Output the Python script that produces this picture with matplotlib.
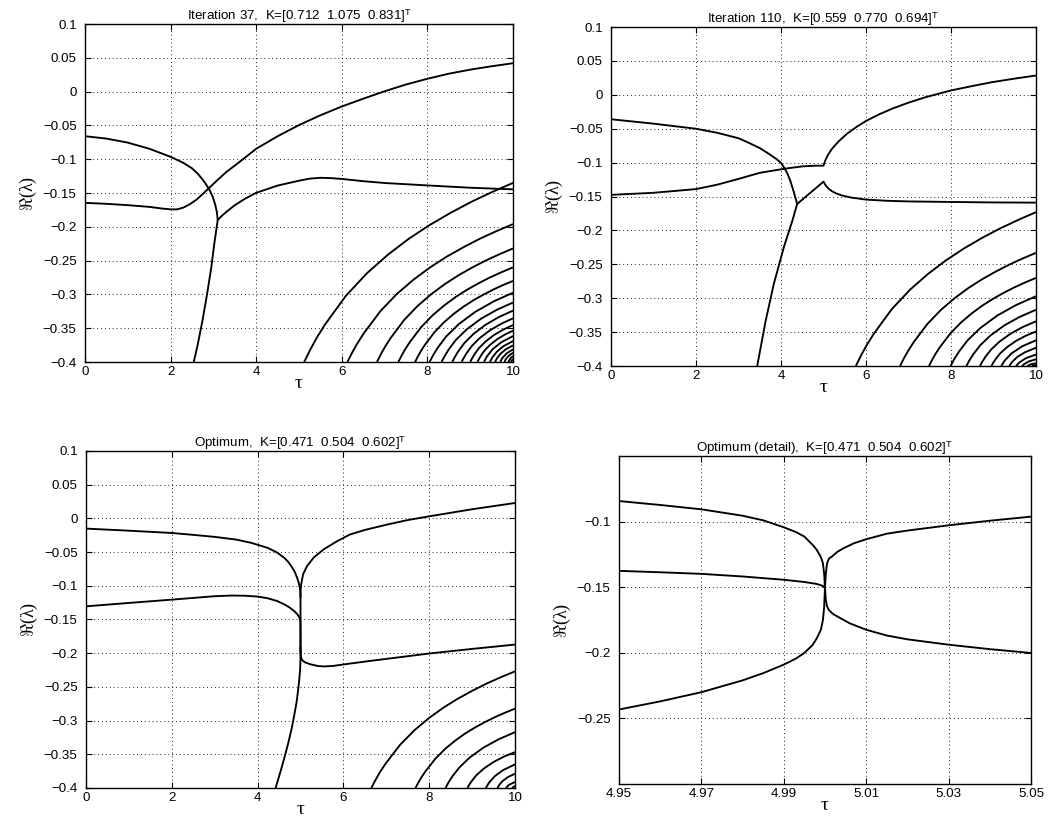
import matplotlib
matplotlib.use("Agg")
import matplotlib.pyplot as plt
from matplotlib.ticker import FuncFormatter

plt.rcParams["font.family"] = ["Liberation Sans", "DejaVu Sans"]
plt.rcParams["mathtext.fontset"] = "custom"
plt.rcParams["mathtext.rm"] = "Liberation Serif"
plt.rcParams["mathtext.it"] = "Liberation Serif:italic"
plt.rcParams["mathtext.bf"] = "Liberation Serif:bold"
plt.rcParams["mathtext.sf"] = "Liberation Sans"

# ---------------------------------------------------------------- axes ticks
tau_ticks = [0, 2, 4, 6, 8, 10]
re_ticks = [-0.4, -0.35, -0.3, -0.25, -0.2, -0.15, -0.1, -0.05, 0, 0.05, 0.1]
detail_tau_ticks = [4.95, 4.97, 4.99, 5.01, 5.03, 5.05]
detail_re_ticks = [-0.25, -0.2, -0.15, -0.1]

titles = [
    r"Iteration 37,  K=[0.712  1.075  0.831]$^{\mathsf{T}}$",
    r"Iteration 110,  K=[0.559  0.770  0.694]$^{\mathsf{T}}$",
    r"Optimum,  K=[0.471  0.504  0.602]$^{\mathsf{T}}$",
    r"Optimum (detail),  K=[0.471  0.504  0.602]$^{\mathsf{T}}$",
]

# ------------------------------------------------- iteration 37: root branches
it37_tau_a = [0, 0.5, 1.0, 1.5, 2.0, 2.3, 2.5, 2.65, 2.8, 2.9, 2.98, 3.04, 3.08, 3.1]
it37_re_a = [-0.066, -0.0695, -0.0755, -0.0845, -0.0965, -0.1055, -0.1135, -0.1225,
             -0.1345, -0.1445, -0.155, -0.167, -0.178, -0.19]
it37_tau_d = [3.1, 3.02, 2.95, 2.85, 2.74, 2.63, 2.54]
it37_re_d = [-0.19, -0.225, -0.26, -0.30, -0.34, -0.375, -0.4]
it37_tau_b = [0, 0.5, 1, 1.5, 1.8, 2.0, 2.15, 2.3, 2.45, 2.6, 2.75, 2.9, 3.1, 3.3, 3.6,
              4, 4.5, 5, 5.5, 6, 6.5, 7, 7.5, 8, 8.5, 9, 9.5, 10]
it37_re_b = [-0.1646, -0.166, -0.168, -0.1705, -0.173, -0.1742, -0.1742, -0.1715,
             -0.1665, -0.16, -0.1515, -0.1425, -0.1305, -0.119, -0.1045, -0.0845,
             -0.066, -0.0495, -0.035, -0.022, -0.0105, 0.0005, 0.0105, 0.019, 0.0265,
             0.0325, 0.0375, 0.042]
it37_tau_c = [3.1, 3.2, 3.3, 3.5, 3.75, 4, 4.5, 5, 5.25, 5.5, 5.75, 6, 6.5, 7, 8, 9, 10]
it37_re_c = [-0.19, -0.1835, -0.178, -0.168, -0.158, -0.1497, -0.139, -0.1318, -0.1287,
             -0.1275, -0.128, -0.1292, -0.1325, -0.1352, -0.1388, -0.1422, -0.1446]
it37_fan_tau = [
    [5.12, 5.266, 5.413, 5.608, 6.096, 6.584, 7.072, 7.56, 8.048, 8.536, 9.024, 9.512, 10],
    [6.13, 6.246, 6.362, 6.517, 6.904, 7.291, 7.678, 8.065, 8.452, 8.839, 9.226, 9.613, 10],
    [6.82, 6.915, 7.011, 7.138, 7.456, 7.774, 8.092, 8.41, 8.728, 9.046, 9.364, 9.682, 10],
    [7.32, 7.40, 7.481, 7.588, 7.856, 8.124, 8.392, 8.66, 8.928, 9.196, 9.464, 9.732, 10],
    [7.71, 7.779, 7.847, 7.939, 8.168, 8.397, 8.626, 8.855, 9.084, 9.313, 9.542, 9.771, 10],
    [8.05, 8.128, 8.245, 8.44, 8.733, 9.123, 9.552, 10],
    [8.33, 8.397, 8.497, 8.664, 8.915, 9.249, 9.616, 10],
    [8.58, 8.637, 8.722, 8.864, 9.077, 9.361, 9.673, 10],
    [8.8, 8.848, 8.92, 9.04, 9.22, 9.46, 9.724, 10],
    [9.0, 9.04, 9.1, 9.2, 9.35, 9.55, 9.77, 10],
    [9.17, 9.203, 9.253, 9.336, 9.461, 9.627, 9.809, 10],
    [9.32, 9.388, 9.524, 9.728, 10],
    [9.46, 9.514, 9.622, 9.784, 10],
    [9.58, 9.622, 9.706, 9.832, 10],
    [9.70, 9.745, 9.85, 10],
    [9.8, 9.83, 9.9, 10],
    [9.89, 9.95, 10],
    [9.95, 10],
]
it37_fan_re = [
    [-0.4, -0.3812, -0.3642, -0.3444, -0.302, -0.2688, -0.2415, -0.2179, -0.1975,
     -0.1795, -0.1631, -0.1485, -0.135],
    [-0.4, -0.3855, -0.3725, -0.3572, -0.3245, -0.299, -0.278, -0.2599, -0.2441,
     -0.2303, -0.2176, -0.2064, -0.196],
    [-0.4, -0.3881, -0.3773, -0.3647, -0.3378, -0.3168, -0.2995, -0.2846, -0.2716,
     -0.2602, -0.2498, -0.2406, -0.232],
    [-0.4, -0.3901, -0.3811, -0.3706, -0.3482, -0.3307, -0.3163, -0.3038, -0.293,
     -0.2835, -0.2748, -0.2671, -0.26],
    [-0.4, -0.3915, -0.3838, -0.3748, -0.3556, -0.3406, -0.3282, -0.3176, -0.3083,
     -0.3002, -0.2927, -0.2861, -0.28],
    [-0.4, -0.3905, -0.3785, -0.3621, -0.3439, -0.3256, -0.3102, -0.2975],
    [-0.4, -0.3918, -0.3815, -0.3674, -0.3519, -0.3361, -0.3229, -0.312],
    [-0.4, -0.3929, -0.384, -0.3719, -0.3584, -0.3448, -0.3334, -0.324],
    [-0.4, -0.394, -0.3864, -0.3761, -0.3647, -0.3531, -0.3434, -0.3354],
    [-0.4, -0.3949, -0.3885, -0.3798, -0.3701, -0.3603, -0.3521, -0.3453],
    [-0.4, -0.3957, -0.3903, -0.3829, -0.3747, -0.3664, -0.3594, -0.3537],
    [-0.4, -0.3919, -0.381, -0.3707, -0.3616],
    [-0.4, -0.3935, -0.3847, -0.3763, -0.369],
    [-0.4, -0.3948, -0.3878, -0.3812, -0.3754],
    [-0.4, -0.3946, -0.3872, -0.3813],
    [-0.4, -0.396, -0.3906, -0.3863],
    [-0.4, -0.3936, -0.3912],
    [-0.4, -0.3951],
]

# ------------------------------------------------ iteration 110: root branches
it110_tau_a = [0, 1, 2, 2.5, 3, 3.25, 3.5, 3.75, 3.9, 4.0, 4.08, 4.15, 4.22, 4.3, 4.38]
it110_re_a = [-0.036, -0.0425, -0.05, -0.056, -0.064, -0.071, -0.0785, -0.0885, -0.095,
              -0.1005, -0.108, -0.116, -0.127, -0.143, -0.161]
it110_tau_d = [4.38, 4.27, 4.07, 3.83, 3.64, 3.44]
it110_re_d = [-0.161, -0.185, -0.224, -0.279, -0.333, -0.4]
it110_tau_e = [4.38, 5.0, 5.05, 5.12, 5.2, 5.3, 5.45, 5.65, 6, 6.5, 7, 8, 9, 10]
it110_re_e = [-0.161, -0.128, -0.1335, -0.1385, -0.1422, -0.1455, -0.1487, -0.1515,
              -0.1545, -0.1563, -0.1572, -0.158, -0.1587, -0.159]
it110_tau_b = [0, 1, 2, 2.5, 3, 3.5, 4.08, 4.5, 4.8, 5.0, 5.04, 5.1, 5.2, 5.35, 5.55,
               5.77, 6, 6.3, 6.62, 7, 7.4, 8, 8.5, 8.95, 9.5, 10]
it110_re_b = [-0.1475, -0.1445, -0.139, -0.1325, -0.124, -0.115, -0.109, -0.1055,
              -0.1045, -0.1045, -0.097, -0.089, -0.0795, -0.069, -0.0575, -0.0475,
              -0.0385, -0.029, -0.0203, -0.0115, -0.0035, 0.0065, 0.013, 0.0185, 0.024,
              0.0285]
it110_fan_tau = [
    [5.76, 5.887, 6.014, 6.184, 6.608, 7.032, 7.456, 7.88, 8.304, 8.728, 9.152, 9.576, 10],
    [6.8, 6.896, 6.992, 7.12, 7.44, 7.76, 8.08, 8.4, 8.72, 9.04, 9.36, 9.68, 10],
    [7.48, 7.556, 7.631, 7.732, 7.984, 8.236, 8.488, 8.74, 8.992, 9.244, 9.496, 9.748, 10],
    [7.99, 8.07, 8.191, 8.392, 8.694, 9.096, 9.538, 10],
    [8.36, 8.426, 8.524, 8.688, 8.934, 9.262, 9.623, 10],
    [8.68, 8.733, 8.812, 8.944, 9.142, 9.406, 9.696, 10],
    [8.95, 8.992, 9.055, 9.16, 9.318, 9.528, 9.759, 10],
    [9.18, 9.262, 9.426, 9.672, 10],
    [9.37, 9.433, 9.559, 9.748, 10],
    [9.53, 9.60, 9.765, 10],
    [9.67, 9.72, 9.835, 10],
    [9.79, 9.89, 10],
    [9.9, 10],
]
it110_fan_re = [
    [-0.4, -0.3839, -0.3694, -0.3523, -0.316, -0.2876, -0.2643, -0.2441, -0.2266,
     -0.2111, -0.1971, -0.1846, -0.173],
    [-0.4, -0.3881, -0.3775, -0.3649, -0.3382, -0.3173, -0.3001, -0.2853, -0.2724,
     -0.2611, -0.2507, -0.2415, -0.233],
    [-0.4, -0.3908, -0.3825, -0.3727, -0.3519, -0.3357, -0.3223, -0.3107, -0.3007,
     -0.2918, -0.2838, -0.2766, -0.27],
    [-0.4, -0.3904, -0.3784, -0.3619, -0.3437, -0.3252, -0.3098, -0.297],
    [-0.4, -0.3923, -0.3826, -0.3693, -0.3546, -0.3397, -0.3273, -0.317],
    [-0.4, -0.3939, -0.3861, -0.3756, -0.3639, -0.3521, -0.3422, -0.334],
    [-0.4, -0.3953, -0.3893, -0.3811, -0.3721, -0.363, -0.3553, -0.349],
    [-0.4, -0.392, -0.3812, -0.371, -0.362],
    [-0.4, -0.3943, -0.3866, -0.3794, -0.373],
    [-0.4, -0.3951, -0.3883, -0.383],
    [-0.4, -0.3971, -0.3931, -0.39],
    [-0.4, -0.3971, -0.396],
    [-0.4, -0.3985],
]

# ------------------------------------------------------ optimum: root branches
opt_tau_a = [0, 1, 2, 2.5, 3, 3.5, 3.85, 4.23, 4.45, 4.62, 4.72, 4.81, 4.87, 4.92, 4.955,
             4.985, 4.995, 5.0, 5.0]
opt_re_a = [-0.0152, -0.0183, -0.0217, -0.0245, -0.0275, -0.0315, -0.0363, -0.0437,
            -0.0505, -0.0585, -0.065, -0.0733, -0.080, -0.088, -0.095, -0.1029, -0.110,
            -0.118, -0.2]
opt_tau_up = [5.0, 5.004, 5.015, 5.06, 5.15, 5.31, 5.54, 5.85, 6.15, 6.5, 7, 7.5, 8, 9, 10]
opt_re_up = [-0.118, -0.106, -0.098, -0.083, -0.071, -0.058, -0.046, -0.034, -0.024,
             -0.0172, -0.0095, -0.0025, 0.003, 0.0135, 0.0228]
opt_tau_b = [0, 1, 2, 3, 3.4, 3.7, 4.0, 4.23, 4.45, 4.62, 4.75, 4.85, 4.92, 4.96, 4.985,
             4.997, 5.0, 5.0]
opt_re_b = [-0.1305, -0.1255, -0.1206, -0.1155, -0.1145, -0.1148, -0.116, -0.1185,
            -0.1225, -0.1275, -0.1325, -0.1374, -0.1418, -0.1455, -0.149, -0.153, -0.16,
            -0.2]
opt_tau_low = [5.0, 5.003, 5.012, 5.04, 5.1, 5.23, 5.4, 5.55, 5.75, 6, 6.5, 7, 8, 9, 10]
opt_re_low = [-0.19, -0.2, -0.206, -0.2105, -0.2135, -0.2165, -0.219, -0.2197, -0.219,
              -0.2168, -0.2125, -0.2085, -0.2005, -0.1937, -0.1873]
opt_tau_d = [5.0, 4.998, 4.99, 4.97, 4.94, 4.91, 4.86, 4.8, 4.72, 4.65, 4.55, 4.42]
opt_re_d = [-0.2, -0.212, -0.225, -0.24, -0.257, -0.272, -0.29, -0.31, -0.332, -0.349,
            -0.372, -0.4]
opt_fan_tau = [
    [6.65, 6.751, 6.851, 6.985, 7.32, 7.655, 7.99, 8.325, 8.66, 8.995, 9.33, 9.665, 10],
    [7.68, 7.75, 7.819, 7.912, 8.144, 8.376, 8.608, 8.84, 9.072, 9.304, 9.536, 9.768, 10],
    [8.38, 8.445, 8.542, 8.704, 8.947, 9.271, 9.627, 10],
    [8.89, 8.934, 9.001, 9.112, 9.279, 9.501, 9.745, 10],
    [9.32, 9.388, 9.524, 9.728, 10],
    [9.59, 9.631, 9.713, 9.836, 10],
    [9.79, 9.85, 10],
    [9.93, 10],
]
opt_fan_re = [
    [-0.4, -0.3877, -0.3766, -0.3637, -0.336, -0.3144, -0.2965, -0.2811, -0.2678,
     -0.2561, -0.2453, -0.2358, -0.227],
    [-0.4, -0.3916, -0.3841, -0.3753, -0.3565, -0.3417, -0.3296, -0.3191, -0.3101,
     -0.3021, -0.2948, -0.2883, -0.2823],
    [-0.4, -0.3923, -0.3826, -0.3694, -0.3547, -0.3399, -0.3275, -0.3172],
    [-0.4, -0.3951, -0.3888, -0.3803, -0.3709, -0.3614, -0.3534, -0.3468],
    [-0.4, -0.3927, -0.3827, -0.3733, -0.365],
    [-0.4, -0.3955, -0.3895, -0.3838, -0.3788],
    [-0.4, -0.3957, -0.391],
    [-0.4, -0.397],
]

# --------------------------------------------- optimum detail around tau = 5
det_tau_a = [4.95, 4.96, 4.97, 4.98, 4.985, 4.99, 4.993, 4.995, 4.997, 4.998, 4.999,
             4.9995, 4.9998, 5.0]
det_re_a = [-0.0843, -0.0873, -0.0906, -0.0955, -0.0990, -0.1043, -0.1080, -0.1114,
            -0.1177, -0.1215, -0.127, -0.1317, -0.14, -0.15]
det_tau_e = [4.95, 4.96, 4.97, 4.98, 4.985, 4.99, 4.993, 4.995, 4.997, 4.998, 4.999,
             4.9995, 4.9998, 5.0]
det_re_e = [-0.2432, -0.237, -0.230, -0.221, -0.2155, -0.209, -0.2043, -0.2, -0.194,
            -0.189, -0.1824, -0.175, -0.165, -0.15]
det_tau_b = [4.95, 4.96, 4.97, 4.98, 4.99, 4.995, 4.998, 4.9995, 5.0]
det_re_b = [-0.1375, -0.1386, -0.1398, -0.1418, -0.1443, -0.146, -0.1475, -0.149, -0.1507]
det_tau_c = [5.0, 5.0002, 5.0005, 5.001, 5.0017, 5.003, 5.0045, 5.007, 5.01, 5.015, 5.02,
             5.03, 5.04, 5.05]
det_re_c = [-0.15, -0.14, -0.1317, -0.128, -0.1266, -0.123, -0.1203, -0.1165, -0.1134,
            -0.1092, -0.1068, -0.1028, -0.0993, -0.0962]
det_tau_d = [5.0, 5.0002, 5.0005, 5.0009, 5.002, 5.0037, 5.006, 5.01, 5.015, 5.02, 5.03,
             5.04, 5.05]
det_re_d = [-0.15, -0.16, -0.1645, -0.1672, -0.1705, -0.1735, -0.1775, -0.1824, -0.1868,
            -0.1897, -0.1938, -0.1972, -0.2001]

# ------------------------------------------------------------------- drawing
LW = 1.35


def tick_text(v, pos):
    return ("%g" % round(v, 4)).replace("-", "\u2212")


def setup(ax, title, xlim, ylim, xticks, yticks):
    ax.set_xlim(xlim)
    ax.set_ylim(ylim)
    ax.set_xticks(xticks)
    ax.set_yticks(yticks)
    ax.xaxis.set_major_formatter(FuncFormatter(tick_text))
    ax.yaxis.set_major_formatter(FuncFormatter(tick_text))
    ax.tick_params(direction="in", top=True, right=True, length=4, width=0.8,
                   labelsize=9.6)
    ax.tick_params(axis="y", pad=6)
    ax.tick_params(axis="x", pad=3)
    ax.grid(True, color="#222222", linestyle=(0, (1, 3)), linewidth=0.7)
    for s in ax.spines.values():
        s.set_linewidth(1.0)
    ax.set_title(title, fontsize=9.6, pad=3)
    ax.set_xlabel(r"$\mathrm{\tau}$", fontsize=14, labelpad=-2)
    ax.set_ylabel(r"$\Re(\mathrm{\lambda})$", fontsize=13, labelpad=3)


def draw(ax, t, v):
    ax.plot(t, v, color="black", lw=LW, solid_joinstyle="round", solid_capstyle="butt")


fig = plt.figure(figsize=(10.5, 8.22), dpi=100)
ax1 = fig.add_axes([0.081, 0.5596, 0.4076, 0.4112])
ax2 = fig.add_axes([0.5819, 0.5547, 0.4048, 0.4124])
ax3 = fig.add_axes([0.0819, 0.0414, 0.4086, 0.4100])
ax4 = fig.add_axes([0.5895, 0.0462, 0.3924, 0.3990])

# iteration 37
for t, v in [(it37_tau_a, it37_re_a), (it37_tau_d, it37_re_d),
             (it37_tau_b, it37_re_b), (it37_tau_c, it37_re_c)]:
    draw(ax1, t, v)
for t, v in zip(it37_fan_tau, it37_fan_re):
    draw(ax1, t, v)
setup(ax1, titles[0], (0, 10), (-0.4, 0.1), tau_ticks, re_ticks)

# iteration 110
for t, v in [(it110_tau_a, it110_re_a), (it110_tau_d, it110_re_d),
             (it110_tau_e, it110_re_e), (it110_tau_b, it110_re_b)]:
    draw(ax2, t, v)
for t, v in zip(it110_fan_tau, it110_fan_re):
    draw(ax2, t, v)
setup(ax2, titles[1], (0, 10), (-0.4, 0.1), tau_ticks, re_ticks)

# optimum
for t, v in [(opt_tau_a, opt_re_a), (opt_tau_up, opt_re_up), (opt_tau_b, opt_re_b),
             (opt_tau_low, opt_re_low), (opt_tau_d, opt_re_d)]:
    draw(ax3, t, v)
for t, v in zip(opt_fan_tau, opt_fan_re):
    draw(ax3, t, v)
setup(ax3, titles[2], (0, 10), (-0.4, 0.1), tau_ticks, re_ticks)

# optimum, detail
for t, v in [(det_tau_a, det_re_a), (det_tau_e, det_re_e), (det_tau_b, det_re_b),
             (det_tau_c, det_re_c), (det_tau_d, det_re_d)]:
    draw(ax4, t, v)
setup(ax4, titles[3], (4.95, 5.05), (-0.3, -0.05), detail_tau_ticks, detail_re_ticks)

fig.savefig("out.png", dpi=100)
